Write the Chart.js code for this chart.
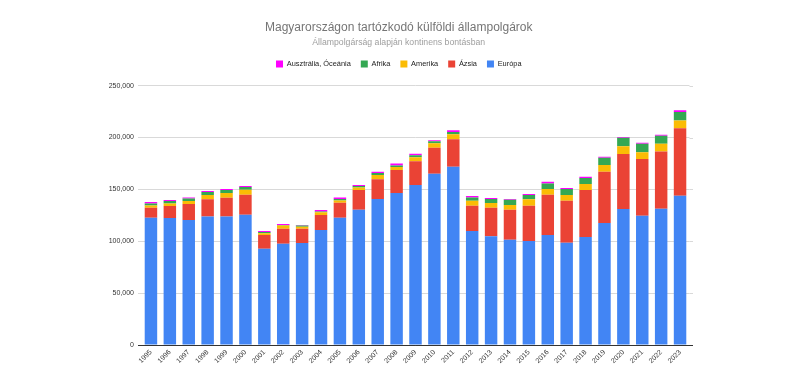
<!DOCTYPE html>
<html>
<head>
<meta charset="utf-8">
<script src="https://cdn.jsdelivr.net/npm/chart.js@4"></script>
<style>
html,body{margin:0;padding:0;background:#fff;}
#wrap{width:800px;height:379px;position:relative;}
</style>
</head>
<body>
<div id="wrap"><canvas id="c" width="800" height="379"></canvas></div>
<script>
const years = ["1995","1996","1997","1998","1999","2000","2001","2002","2003","2004","2005","2006","2007","2008","2009","2010","2011","2012","2013","2014","2015","2016","2017","2018","2019","2020","2021","2022","2023"];
const europa = [122700,122400,120500,124000,124000,125600,92900,97700,98400,110900,122700,130400,140700,146500,154200,165100,171800,109900,104800,101600,100300,106100,98700,104200,117600,131100,124700,131400,143900];
const azsia = [9700,11600,15400,16400,18000,19300,13200,14500,13800,14400,14500,19000,19200,22100,23000,25000,26600,24400,27600,28800,34000,38800,40400,45200,49400,52900,54500,55100,65100];
const amerika = [2200,2500,2900,4100,4500,4800,1600,2900,1900,2600,2200,2500,3900,2900,3900,4400,4800,4800,4500,4500,6100,5400,5400,5700,6400,7700,6700,7400,7300];
const afrika = [1900,2300,2500,2900,2900,2500,1300,600,1000,900,1300,1300,1900,1600,1900,2000,2200,3200,3800,5200,4100,5500,5800,5800,7000,8000,8000,7700,8400];
const oceania = [1300,900,1000,1000,900,1000,900,1000,600,1300,1600,1000,1300,1900,1300,900,1600,1300,1000,600,1000,1600,1000,1300,1000,900,1000,1000,1600];

const FONT = "'Liberation Sans', Arial, sans-serif";
const legendGap = {
  id: 'legendGap',
  beforeInit(chart) {
    const lg = chart.legend;
    if (!lg) return;
    const orig = lg.fit.bind(lg);
    lg.fit = function() { orig(); this.height += 8; };
  }
};
const gridExtend = {
  id: 'gridExtend',
  beforeDatasetsDraw(chart) {
    const {ctx, chartArea, scales} = chart;
    const y = scales.y;
    ctx.save();
    ctx.lineWidth = 1;
    y.ticks.forEach((t, i) => {
      const py = Math.round(y.getPixelForTick(i)) + 0.5;
      ctx.strokeStyle = t.value === 0 ? '#333' : '#d9d9d9';
      ctx.beginPath();
      ctx.moveTo(chartArea.right, py);
      ctx.lineTo(chartArea.right + 3.5, py);
      ctx.stroke();
    });
    ctx.restore();
  }
};
const ctx = document.getElementById('c').getContext('2d');
new Chart(ctx, {
  type: 'bar',
  data: {
    labels: years,
    datasets: [
      {label: 'Európa', data: europa, backgroundColor: '#4285f4'},
      {label: 'Ázsia', data: azsia, backgroundColor: '#ea4335'},
      {label: 'Amerika', data: amerika, backgroundColor: '#fbbc04'},
      {label: 'Afrika', data: afrika, backgroundColor: '#34a853'},
      {label: 'Ausztrália, Óceánia', data: oceania, backgroundColor: '#ff00ff'}
    ]
  },
  plugins: [legendGap, gridExtend],
  options: {
    responsive: false,
    animation: false,
    layout: {padding: {left: 108, right: 110.5, top: 0, bottom: 11}},
    datasets: {bar: {categoryPercentage: 1.0, barPercentage: 0.66}},
    plugins: {
      title: {display: true, text: 'Magyarországon tartózkodó külföldi állampolgárok', color: '#757575',
              font: {family: FONT, size: 12, weight: 'normal'}, padding: {top: 20, bottom: 2}},
      subtitle: {display: true, text: 'Állampolgárság alapján kontinens bontásban', color: '#9e9e9e',
              font: {family: FONT, size: 8.7}, padding: {top: 1.4, bottom: 2}},
      legend: {reverse: true, labels: {boxWidth: 7, boxHeight: 7, color: '#222', font: {family: FONT, size: 7.4}, padding: 10}},
      tooltip: {enabled: false}
    },
    scales: {
      x: {stacked: true,
          grid: {display: false, drawTicks: false},
          border: {color: '#333', width: 1},
          ticks: {color: '#333', font: {family: FONT, size: 7}, maxRotation: 45, minRotation: 45, autoSkip: false, padding: 3}},
      y: {stacked: true, min: 0, max: 250000,
          afterFit: (s) => { s.width = 33.5; },
          grid: {color: (c) => c.tick && c.tick.value === 0 ? '#333' : '#d9d9d9', drawTicks: true, tickLength: 3.5},
          border: {display: false},
          ticks: {stepSize: 50000, color: '#333', font: {family: FONT, size: 7}, padding: 4,
                  callback: (v) => v.toLocaleString('en-US')}}
    }
  }
});
</script>
</body>
</html>
